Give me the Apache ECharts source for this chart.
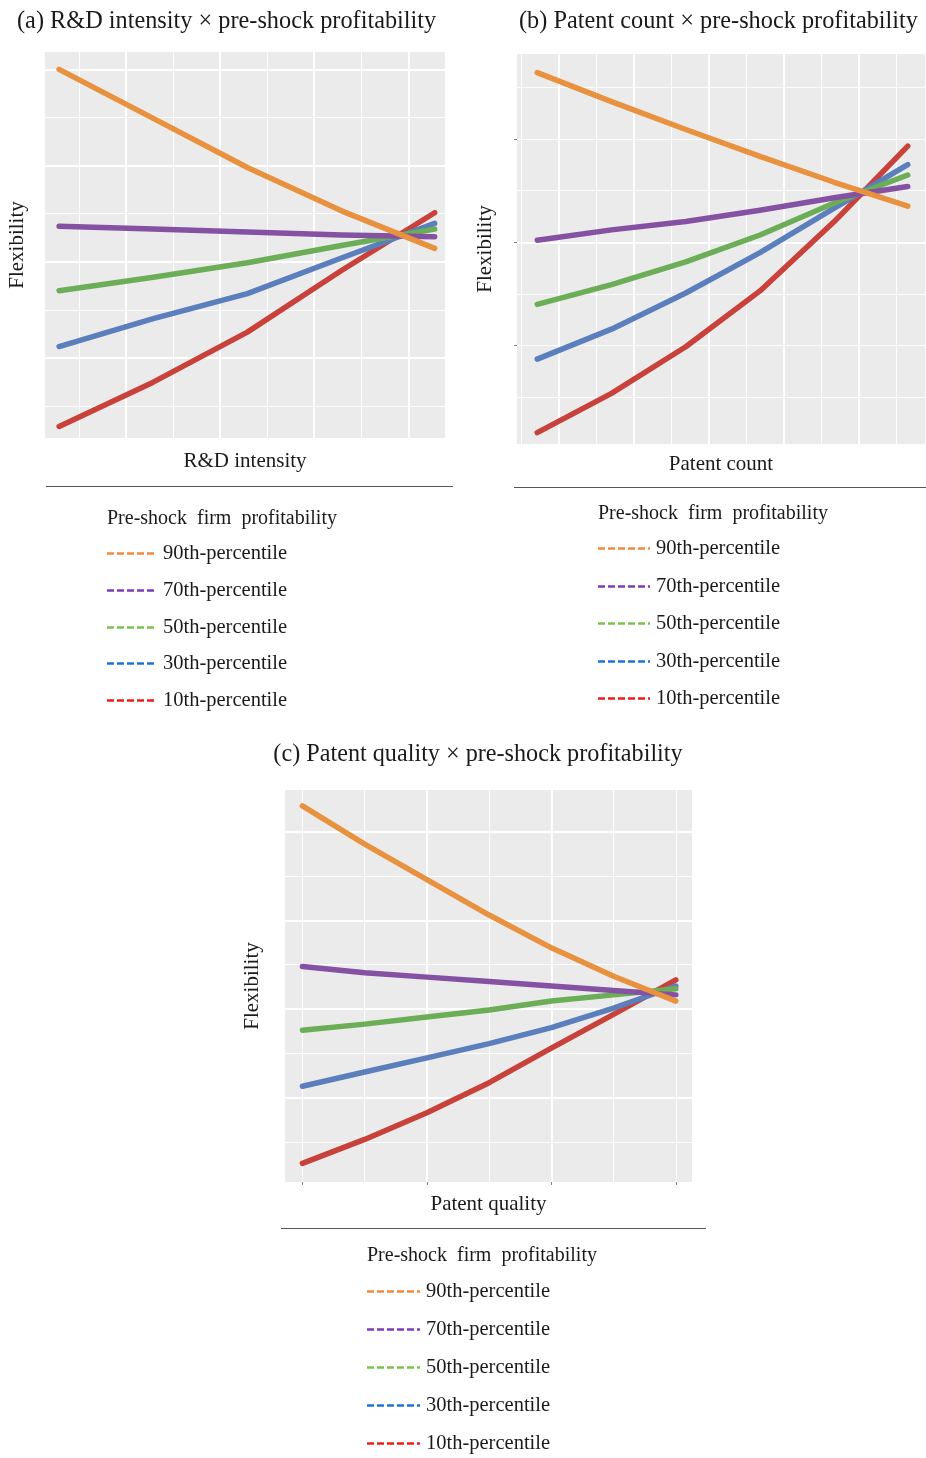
<!DOCTYPE html>
<html><head><meta charset="utf-8">
<script src="https://cdn.jsdelivr.net/npm/echarts@6/dist/echarts.min.js"></script>
<style>html,body{margin:0;padding:0;background:#fff}#c{width:926px;height:1458px}</style>
</head><body><div id="c"></div>
<script>
// ---- data ----
const seriesNames = ['90th-percentile','70th-percentile','50th-percentile','30th-percentile','10th-percentile'];
const legendTitle = 'Pre-shock  firm  profitability';
const panelTitles = ['(a) R&D intensity \u00d7 pre-shock profitability','(b) Patent count \u00d7 pre-shock profitability','(c) Patent quality \u00d7 pre-shock profitability'];
const xNames = ['R&D intensity','Patent count','Patent quality'];
const yName = 'Flexibility';

// panel (a)
const xA   = [0.29, 1.29, 2.29, 3.29, 4.28];
const a90  = [4.00, 3.49, 2.98, 2.53, 2.14];
const a70  = [2.37, 2.34, 2.31, 2.28, 2.26];
const a50  = [1.70, 1.84, 1.99, 2.17, 2.34];
const a30  = [1.12, 1.41, 1.67, 2.04, 2.40];
const a10  = [0.29, 0.75, 1.27, 1.91, 2.51];
// panel (b)
const xB   = [0.71, 1.70, 2.69, 3.68, 4.67, 5.65];
const b90  = [3.64, 3.36, 3.09, 2.83, 2.58, 2.35];
const b70  = [2.02, 2.12, 2.20, 2.31, 2.43, 2.54];
const b50  = [1.40, 1.59, 1.81, 2.07, 2.38, 2.65];
const b30  = [0.87, 1.16, 1.51, 1.90, 2.33, 2.75];
const b10  = [0.16, 0.54, 0.99, 1.53, 2.20, 2.93];
// panel (c)
const xC   = [0, 0.5, 1, 1.5, 2, 2.5, 3];
const c90  = [4.29, 3.86, 3.46, 3.06, 2.69, 2.37, 2.09];
const c70  = [2.48, 2.41, 2.36, 2.31, 2.26, 2.21, 2.16];
const c50  = [1.76, 1.83, 1.91, 1.99, 2.09, 2.16, 2.23];
const c30  = [1.13, 1.29, 1.45, 1.61, 1.79, 2.01, 2.26];
const c10  = [0.26, 0.53, 0.83, 1.17, 1.56, 1.94, 2.33];

// tick positions (major grid values)
const bYTicks = [1, 2, 3];
const cXTicks = [0, 1, 2, 3];

// ---- styles ----
const lineColors   = ['#E8913F','#8551A3','#6CAE57','#5A7FBC','#C8413A'];
const legendColors = ['#F4893B','#7A3DBB','#7DC14F','#1E74D6','#EE1C1C'];
const FONT = '"Liberation Serif", "Times New Roman", serif';

const panels = [
  {grid:{left:45,top:52,width:400,height:386}, x:xA, ys:[a90,a70,a50,a30,a10],
   xr:[0.14,4.39], yr:[0.17,4.18], xGap:13, yGap:17, xTicks:null, yTicks:null},
  {grid:{left:517,top:54,width:408,height:390}, x:xB, ys:[b90,b70,b50,b30,b10],
   xr:[0.44,5.88], yr:[0.05,3.82], xGap:10, yGap:21, xTicks:null, yTicks:bYTicks},
  {grid:{left:285,top:790,width:407,height:392}, x:xC, ys:[c90,c70,c50,c30,c10],
   xr:[-0.14,3.13], yr:[0.05,4.47], xGap:12, yGap:22, xTicks:cXTicks, yTicks:null}
];

const grids=[], xAxes=[], yAxes=[], series=[];
const tick = vals => vals ? {show:true, customValues:vals, length:3, lineStyle:{color:'#7f7f7f', width:1}} : {show:false};
panels.forEach((p,i)=>{
  grids.push(Object.assign({show:true, backgroundColor:'#EBEBEB', borderWidth:0}, p.grid));
  const major = w => ({show:true, showMinLine:false, showMaxLine:false, lineStyle:{color:'#FFFFFF', width:w}});
  xAxes.push({type:'value', gridIndex:i, min:p.xr[0], max:p.xr[1], minInterval:1, maxInterval:1,
    axisLine:{show:false}, axisLabel:{show:false}, axisTick:tick(p.xTicks),
    splitLine:major(1.8), name:xNames[i], nameLocation:'middle', nameGap:p.xGap,
    nameTextStyle:{fontFamily:FONT, fontSize:21, color:'#1a1a1a'}});
  xAxes.push({type:'value', gridIndex:i, position:'top', min:p.xr[0], max:p.xr[1], minInterval:0.5, maxInterval:0.5,
    axisLine:{show:false}, axisLabel:{show:false}, axisTick:{show:false}, splitLine:major(0.9)});
  yAxes.push({type:'value', gridIndex:i, min:p.yr[0], max:p.yr[1], minInterval:1, maxInterval:1,
    axisLine:{show:false}, axisLabel:{show:false}, axisTick:tick(p.yTicks),
    splitLine:major(1.8), name:yName, nameLocation:'middle', nameGap:p.yGap, nameRotate:90,
    nameTextStyle:{fontFamily:FONT, fontSize:21, color:'#1a1a1a'}});
  yAxes.push({type:'value', gridIndex:i, position:'right', min:p.yr[0], max:p.yr[1], minInterval:0.5, maxInterval:0.5,
    axisLine:{show:false}, axisLabel:{show:false}, axisTick:{show:false}, splitLine:major(0.9)});
  // draw order: 10th first, 90th on top
  for (let k=p.ys.length-1;k>=0;k--){
    series.push({type:'line', name:seriesNames[k], xAxisIndex:2*i, yAxisIndex:2*i,
      data:p.x.map((xv,j)=>[xv,p.ys[k][j]]), showSymbol:false, smooth:false, silent:true,
      lineStyle:{color:lineColors[k], width:5.5, cap:'round', join:'round'}, z:3});
  }
});

// ---- text / legend graphics (layout only) ----
const graphics = [];
const titleSpecs = [
  {x:17,  y:21.5, align:'left',   size:24.3},
  {x:519, y:21.5, align:'left',   size:24.3},
  {x:478, y:754.5, align:'center', size:24.2}
];
titleSpecs.forEach((t,i)=>graphics.push({type:'text', style:{text:panelTitles[i], x:t.x, y:t.y,
  align:t.align, verticalAlign:'middle', font:`${t.size}px ${FONT}`, fill:'#1a1a1a'}}));

const rules = [[46,453,486],[514,926,487],[281,706,1228]];
rules.forEach(r=>graphics.push({type:'line', shape:{x1:r[0],y1:r[2]+0.5,x2:r[1],y2:r[2]+0.5},
  style:{stroke:'#555', lineWidth:1}}));

const legends = [
  {x:107, ty:519,  ys:[554,591,628,664,701],   len:50},
  {x:598, ty:514,  ys:[549,587,624,662,699],   len:52},
  {x:367, ty:1256, ys:[1292,1330,1368,1406,1444], len:53}
];
legends.forEach(L=>{
  graphics.push({type:'text', style:{text:legendTitle, x:L.x, y:L.ty, verticalAlign:'middle',
    font:`20px ${FONT}`, fill:'#1a1a1a'}});
  seriesNames.forEach((n,k)=>{
    graphics.push({type:'line', shape:{x1:L.x, y1:L.ys[k]-0.5, x2:L.x+L.len, y2:L.ys[k]-0.5},
      style:{stroke:legendColors[k], lineWidth:2.5, lineDash:[7,3]}});
    graphics.push({type:'text', style:{text:n, x:L.x+L.len+6, y:L.ys[k], verticalAlign:'middle',
      font:`20.5px ${FONT}`, fill:'#1a1a1a'}});
  });
});

const chart = echarts.init(document.getElementById('c'), null, {renderer:'canvas'});
chart.setOption({
  backgroundColor:'#FFFFFF',
  animation:false,
  grid:grids, xAxis:xAxes, yAxis:yAxes, series:series,
  graphic:graphics
});
</script></body></html>
